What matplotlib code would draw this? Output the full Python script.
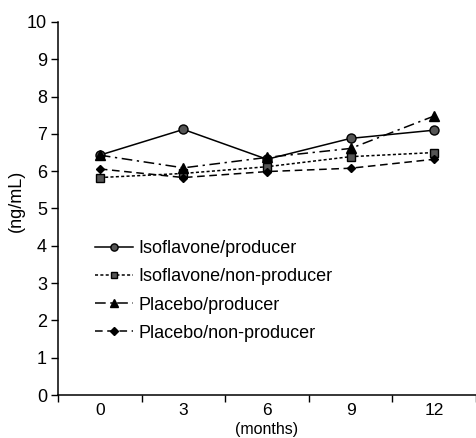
import numpy as np
import matplotlib
matplotlib.use('Agg')
import matplotlib.pyplot as plt

plt.rcParams['font.family'] = ['Liberation Sans', 'DejaVu Sans']

# data
months = ['0', '3', '6', '9', '12']
iso_producer = [6.43, 7.12, 6.32, 6.88, 7.10]
iso_nonproducer = [5.83, 5.94, 6.12, 6.39, 6.50]
placebo_producer = [6.43, 6.09, 6.37, 6.61, 7.48]
placebo_nonproducer = [6.06, 5.83, 5.99, 6.08, 6.32]

x = np.arange(len(months))
fs = 13

fig = plt.figure(figsize=(4.76, 4.38), dpi=100)
ax = fig.add_axes([58 / 476, 43 / 438, 418 / 476, 373 / 438])

ax.plot(x, iso_producer, color='black', lw=1.1, ls='-', marker='o', ms=6.5,
        mfc='#555555', mec='black', label='Isoflavone/producer')
ax.plot(x, iso_nonproducer, color='black', lw=1.1, ls=(0, (2, 1.5)), marker='s', ms=6,
        mfc='#555555', mec='black', label='Isoflavone/non-producer')
ax.plot(x, placebo_producer, color='black', lw=1.1, ls=(0, (7, 3, 1.5, 3)), marker='^', ms=6.5,
        mfc='black', mec='black', label='Placebo/producer')
ax.plot(x, placebo_nonproducer, color='black', lw=1.1, ls=(0, (5, 3)), marker='D', ms=4.5,
        mfc='black', mec='black', label='Placebo/non-producer')

ax.set_xlim(-0.5, len(months) - 0.5)
ax.set_ylim(0, 10)
ax.set_yticks(range(0, 11))

# ticks at category boundaries, labels at centers
ax.set_xticks(np.arange(-0.5, len(months), 1.0))
ax.set_xticklabels([])
ax.set_xticks(x, minor=True)
ax.set_xticklabels(months, minor=True)
ax.tick_params(axis='x', which='major', direction='out', length=5, width=1)
ax.tick_params(axis='x', which='minor', length=0, labelsize=12.5, pad=5.5)
ax.tick_params(axis='y', direction='out', length=5, width=1, labelsize=fs, pad=3)

for s in ['top', 'right']:
    ax.spines[s].set_visible(False)
for s in ['left', 'bottom']:
    ax.spines[s].set_linewidth(1.1)

ax.set_ylabel('(ng/mL)', fontsize=fs)
ax.yaxis.set_label_coords(-0.079, 0.52)
ax.set_xlabel('(months)', fontsize=11.5)
ax.xaxis.set_label_coords(0.5, -0.072)

ax.legend(loc='upper left', bbox_to_anchor=(0.089, 0.415), frameon=False, fontsize=fs,
          handlelength=2.1, handletextpad=0.3, labelspacing=0.62, borderaxespad=0,
          borderpad=0, markerscale=0.8)

fig.savefig('out.png', dpi=100)
